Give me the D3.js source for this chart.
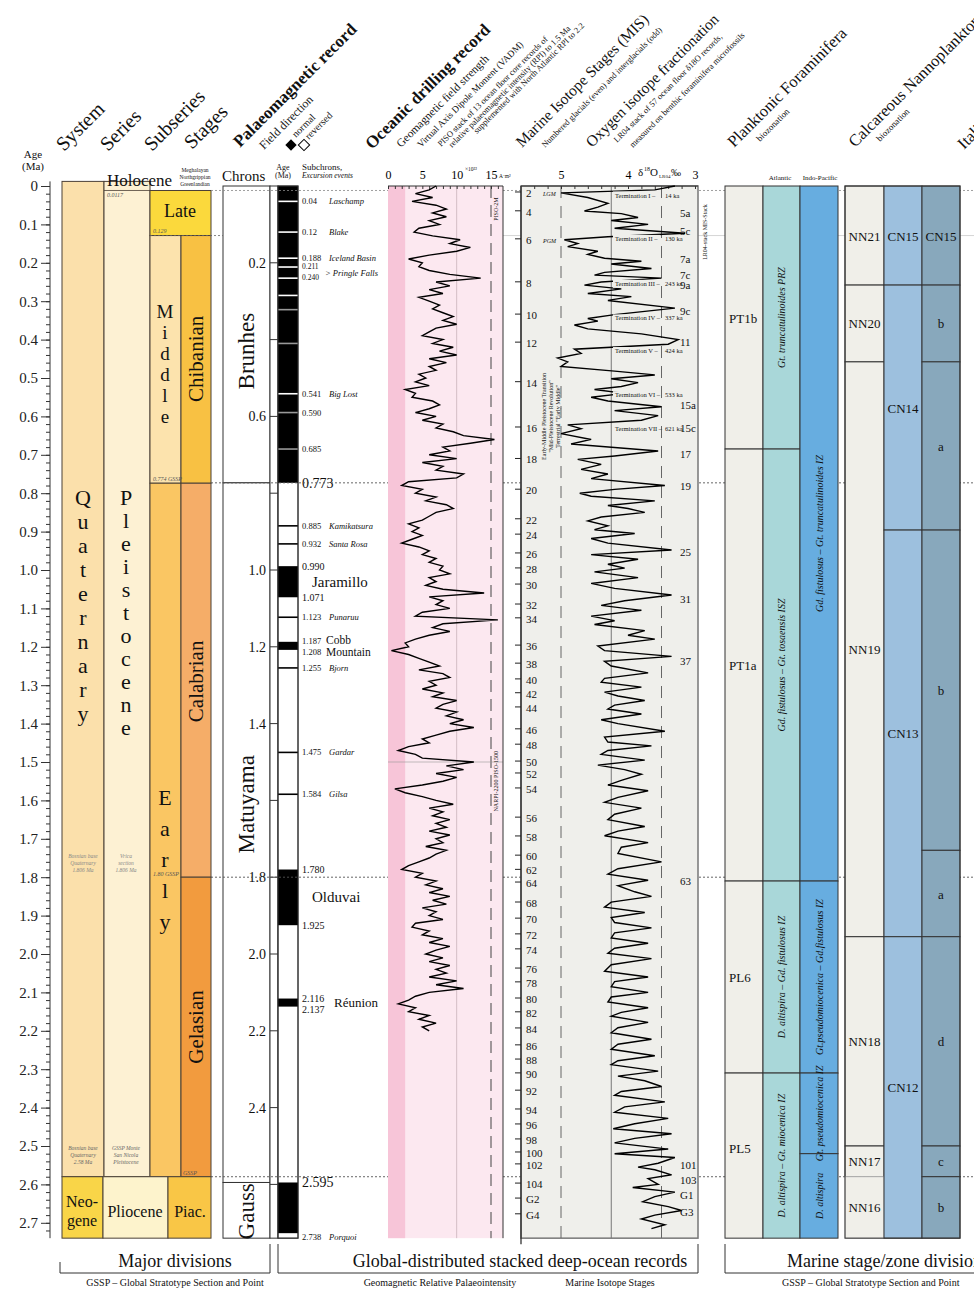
<!DOCTYPE html>
<html>
<head>
<meta charset="utf-8">
<script src="https://cdn.jsdelivr.net/npm/d3@7"></script>
<style>
  body { margin: 0; background: #fff; }
  svg { display: block; font-family: 'Liberation Serif', 'Times New Roman', serif; }
</style>
</head>
<body>
<div id="chart"></div>
<script>
// Quaternary chronostratigraphic chart - data

const BOT = 2.74, TOP = -0.012;

const systems = [
  {name: 'Quaternary', from: TOP, to: 2.58},
  {name: 'Neogene', from: 2.58, to: BOT}
];
const series = [
  {name: 'Pleistocene', from: TOP, to: 2.58},
  {name: 'Pliocene', from: 2.58, to: BOT}
];
const subseries = [
  {name: 'Late', from: 0.0117, to: 0.129},
  {name: 'Middle', from: 0.129, to: 0.774},
  {name: 'Early', from: 0.774, to: 2.58}
];
const stages = [
  {name: 'Chibanian', from: 0.129, to: 0.774},
  {name: 'Calabrian', from: 0.774, to: 1.80},
  {name: 'Gelasian', from: 1.80, to: 2.58},
  {name: 'Piac.', from: 2.58, to: BOT}
];
const chrons = [
  {name: 'Brunhes', from: 0, to: 0.773},
  {name: 'Matuyama', from: 0.773, to: 2.595},
  {name: 'Gauss', from: 2.595, to: BOT}
];
const normalPolarity = [[0, 0.773], [0.990, 1.071], [1.187, 1.208], [1.780, 1.925], [2.116, 2.137], [2.595, 2.727]];
const brunhesExcursions = [0.04, 0.12, 0.188, 0.211, 0.240, 0.285, 0.322, 0.41, 0.541, 0.590, 0.685];
const matuyamaExcursions = [0.885, 0.932, 1.123, 1.255, 1.475, 1.584];
const chronAgeLabels = [0.2, 0.6, 1.0, 1.2, 1.4, 1.8, 2.0, 2.2, 2.4];
const chronAgeTicks = [0.2, 0.4, 0.6, 0.8, 1.0, 1.2, 1.4, 1.6, 1.8, 2.0, 2.2, 2.4, 2.6];

const subchronLabels = [
  {a: 0.04, age: '0.04', name: 'Laschamp'},
  {a: 0.12, age: '0.12', name: 'Blake'},
  {a: 0.188, age: '0.188', name: 'Iceland Basin'},
  {a: 0.541, age: '0.541', name: 'Big Lost'},
  {a: 0.590, age: '0.590', name: ''},
  {a: 0.685, age: '0.685', name: ''},
  {a: 0.885, age: '0.885', name: 'Kamikatsura'},
  {a: 0.932, age: '0.932', name: 'Santa Rosa'},
  {a: 1.123, age: '1.123', name: 'Punaruu'},
  {a: 1.255, age: '1.255', name: 'Bjorn'},
  {a: 1.475, age: '1.475', name: 'Gardar'},
  {a: 1.584, age: '1.584', name: 'Gilsa'},
  {a: 2.738, age: '2.738', name: 'Porquoi'}
];
const subchronMajor = [
  {a: 0.773, text: '0.773', size: 14},
  {a: 0.990, text: '0.990', size: 10},
  {a: 1.071, text: '1.071', size: 10},
  {a: 1.780, text: '1.780', size: 10},
  {a: 1.925, text: '1.925', size: 10},
  {a: 2.595, text: '2.595', size: 14}
];

// geomagnetic field strength (VADM, 10^22 A m^2), sampled every 0.01 Ma from 0 to 2.2 Ma
const vadmStep = 0.01;
const vadmValues = [
  7, 6, 4, 6.5, 3.5, 7, 8.5, 6.5, 8.5, 6,
  7.5, 4.5, 3.8, 6.5, 10.5, 9, 12, 10, 6, 3,
  5, 4.5, 6, 9, 13.5, 7, 9, 6, 8, 4.5,
  6, 7.5, 6.5, 8, 9.5, 8, 10, 7, 6, 5,
  8, 6.5, 9.5, 7.5, 10, 6, 8.5, 6, 7, 4.5,
  5.5, 4, 6, 2.5, 4, 3.5, 6.5, 7.5, 6, 4,
  7, 5, 8, 7, 9.5, 11, 15.5, 12, 8, 9,
  6, 10, 5, 8, 7, 11, 10, 3, 2, 5,
  4, 7, 5.5, 8.5, 9.5, 7, 6, 5, 3, 4.5,
  3.5, 5, 3.5, 2, 4.5, 6, 5, 7, 6, 8,
  7.5, 9, 6, 7, 5.5, 8, 14, 6, 8, 7,
  9, 5, 4, 16, 8, 6.5, 9, 6, 4, 2.5,
  3, 0.5, 3, 4.5, 6, 7.5, 4.5, 8, 9, 6,
  7, 5, 8, 6.5, 10, 8, 7, 10, 8.5, 11,
  9, 12.5, 9, 7, 5, 6, 3, 1.5, 4, 5,
  12.5, 8.5, 11, 7, 10, 8, 5, 1, 2.5, 5,
  7, 9.5, 6, 8, 6.5, 9, 7, 8.5, 6, 9,
  7, 8, 5.5, 8.5, 7, 6, 4.5, 3, 2, 5,
  4, 7, 5.5, 8, 6, 9, 6.5, 8.5, 5, 7,
  6, 8, 4, 3.5, 6, 5, 8, 6, 9, 7,
  5.5, 8, 6, 9, 7, 8.5, 6, 10, 7, 11,
  6, 4, 3, 1.5, 4, 3, 6, 4.5, 7, 5, 6
];

// LR04 benthic d18O (permil), [age Ma, value] turning points
const d18O = [
  [0.000, 3.3], [0.010, 3.6], [0.018, 5.0], [0.030, 4.6], [0.045, 4.3], [0.055, 4.45], [0.065, 4.65], [0.072, 4.1],
  [0.082, 3.85], [0.090, 4.25], [0.100, 3.7], [0.110, 4.2], [0.123, 3.15], [0.132, 4.3], [0.140, 4.95], [0.150, 4.75],
  [0.158, 4.9], [0.170, 4.45], [0.178, 4.6], [0.188, 4.35], [0.196, 3.8], [0.203, 4.25], [0.215, 3.65], [0.225, 4.35],
  [0.232, 4.5], [0.240, 3.5], [0.250, 4.4], [0.258, 4.65], [0.268, 4.1], [0.280, 4.6], [0.288, 3.95], [0.298, 4.3],
  [0.318, 3.3], [0.335, 4.2], [0.345, 4.6], [0.352, 4.45], [0.362, 4.8], [0.372, 4.6], [0.385, 3.8], [0.400, 3.25],
  [0.412, 3.4], [0.425, 4.8], [0.436, 4.7], [0.448, 5.05], [0.458, 4.9], [0.470, 5.0], [0.482, 4.2], [0.492, 3.6],
  [0.502, 4.25], [0.512, 3.85], [0.522, 4.1], [0.530, 4.5], [0.540, 4.05], [0.550, 4.55], [0.560, 4.3], [0.575, 3.5],
  [0.585, 4.2], [0.598, 3.55], [0.610, 3.8], [0.622, 4.9], [0.632, 4.7], [0.645, 5.0], [0.660, 4.55], [0.672, 4.85],
  [0.690, 3.55], [0.703, 4.2], [0.712, 4.75], [0.725, 4.4], [0.738, 4.7], [0.750, 4.3], [0.762, 4.55], [0.780, 3.45],
  [0.790, 4.2], [0.800, 4.72], [0.808, 4.55], [0.820, 3.6], [0.832, 4.3], [0.840, 4.0], [0.850, 3.75], [0.862, 4.4],
  [0.872, 4.6], [0.885, 4.3], [0.895, 4.5], [0.905, 3.9], [0.918, 4.55], [0.930, 4.3], [0.948, 3.35], [0.960, 4.55],
  [0.972, 3.85], [0.985, 4.3], [0.995, 4.05], [1.005, 4.5], [1.020, 3.85], [1.035, 4.55], [1.048, 4.2], [1.065, 3.35],
  [1.080, 4.05], [1.092, 4.4], [1.105, 3.8], [1.120, 4.55], [1.132, 4.2], [1.142, 4.5], [1.158, 3.75], [1.170, 4.0],
  [1.180, 3.6], [1.198, 4.45], [1.210, 4.35], [1.225, 3.35], [1.238, 4.35], [1.250, 4.25], [1.268, 3.7], [1.282, 4.35],
  [1.292, 4.4], [1.305, 3.8], [1.318, 4.35], [1.328, 4.15], [1.340, 3.75], [1.352, 4.2], [1.362, 4.3], [1.375, 3.8],
  [1.390, 4.4], [1.400, 4.15], [1.420, 3.45], [1.435, 4.35], [1.448, 4.3], [1.458, 3.65], [1.470, 4.3], [1.480, 4.4],
  [1.495, 3.75], [1.508, 4.45], [1.520, 4.05], [1.532, 3.8], [1.548, 4.1], [1.560, 4.3], [1.575, 3.7], [1.592, 4.15],
  [1.605, 4.35], [1.620, 3.8], [1.636, 4.2], [1.650, 4.3], [1.668, 3.75], [1.680, 4.15], [1.692, 4.35], [1.710, 3.7],
  [1.722, 4.1], [1.738, 4.15], [1.760, 3.5], [1.778, 4.15], [1.792, 4.3], [1.808, 3.7], [1.822, 4.15], [1.838, 3.9],
  [1.850, 3.65], [1.865, 4.25], [1.878, 4.35], [1.892, 3.75], [1.905, 4.25], [1.918, 4.2], [1.932, 3.65], [1.945, 4.2],
  [1.958, 4.25], [1.972, 3.7], [1.985, 4.2], [1.998, 4.3], [2.012, 3.65], [2.028, 4.25], [2.045, 4.35], [2.060, 3.7],
  [2.072, 4.2], [2.085, 4.25], [2.100, 3.7], [2.112, 4.25], [2.125, 4.3], [2.140, 3.7], [2.152, 4.1], [2.162, 4.25],
  [2.178, 3.7], [2.192, 4.15], [2.205, 4.25], [2.222, 3.65], [2.235, 4.15], [2.248, 4.25], [2.265, 3.6], [2.278, 4.15],
  [2.288, 4.25], [2.305, 3.55], [2.318, 4.15], [2.330, 3.75], [2.345, 3.5], [2.358, 4.1], [2.368, 4.2], [2.385, 3.45],
  [2.398, 4.05], [2.412, 4.2], [2.428, 3.4], [2.442, 3.9], [2.455, 4.22], [2.468, 3.35], [2.480, 3.9], [2.492, 4.2],
  [2.508, 3.4], [2.520, 4.2], [2.530, 3.3], [2.545, 3.55], [2.555, 3.85], [2.562, 3.6], [2.575, 3.35], [2.585, 3.7],
  [2.600, 3.55], [2.608, 3.93], [2.620, 3.3], [2.632, 3.6], [2.645, 3.78], [2.658, 3.4], [2.668, 3.2], [2.680, 3.6],
  [2.690, 3.8], [2.705, 3.45], [2.715, 3.65]
];

const misLeft = [
  ['2', 0.026], ['4', 0.075], ['6', 0.148], ['8', 0.26], ['10', 0.344], ['12', 0.417], ['14', 0.52], ['16', 0.638],
  ['18', 0.72], ['20', 0.80], ['22', 0.877], ['24', 0.917], ['26', 0.966], ['28', 1.005], ['30', 1.047], ['32', 1.099],
  ['34', 1.135], ['36', 1.206], ['38', 1.253], ['40', 1.294], ['42', 1.33], ['44', 1.367], ['46', 1.424], ['48', 1.464],
  ['50', 1.508], ['52', 1.539], ['54', 1.578], ['56', 1.654], ['58', 1.703], ['60', 1.753], ['62', 1.79], ['64', 1.823],
  ['68', 1.875], ['70', 1.917], ['72', 1.958], ['74', 1.997], ['76', 2.047], ['78', 2.083], ['80', 2.125], ['82', 2.161],
  ['84', 2.203], ['86', 2.247], ['88', 2.284], ['90', 2.32], ['92', 2.365], ['94', 2.414], ['96', 2.453], ['98', 2.492],
  ['100', 2.526], ['102', 2.557], ['104', 2.607], ['G2', 2.646], ['G4', 2.687]
];
const misRight = [
  ['5a', 0.07], ['5c', 0.117], ['7a', 0.19], ['7c', 0.232], ['9a', 0.258], ['9c', 0.326], ['11', 0.406], ['15a', 0.57],
  ['15c', 0.63], ['17', 0.698], ['19', 0.782], ['25', 0.953], ['31', 1.076], ['37', 1.237], ['63', 1.81],
  ['101', 2.549], ['103', 2.589], ['G1', 2.628], ['G3', 2.672]
];
const terminations = [
  ['Termination I', '14 ka', 0.030], ['Termination II', '130 ka', 0.143], ['Termination III', '243 ka', 0.26],
  ['Termination IV', '337 ka', 0.35], ['Termination V', '424 ka', 0.435], ['Termination VI', '533 ka', 0.55],
  ['Termination VII', '621 ka', 0.637]
];

const foramZones = [
  {name: 'PT1b', from: 0, to: 0.685}, {name: 'PT1a', from: 0.685, to: 1.81},
  {name: 'PL6', from: 1.81, to: 2.31}, {name: 'PL5', from: 2.31, to: BOT}
];
const foramAtlantic = [
  {name: 'Gt. truncatulinoides PRZ', from: 0, to: 0.685},
  {name: 'Gd. fistulosus – Gt. tosaensis ISZ', from: 0.685, to: 1.81},
  {name: 'D. altispira – Gd. fistulosus IZ', from: 1.81, to: 2.31},
  {name: 'D. altispira – Gt. miocenica IZ', from: 2.31, to: BOT}
];
const foramIndoPacific = [
  {name: 'Gd. fistulosus – Gt. truncatulinoides IZ', from: 0, to: 1.81},
  {name: 'Gt.pseudomiocenica – Gd.fistulosus IZ', from: 1.81, to: 2.31},
  {name: 'Gt. pseudomiocenica IZ', from: 2.31, to: 2.52},
  {name: 'D. altispira', from: 2.52, to: BOT}
];
const nnZones = [
  {name: 'NN21', from: 0, to: 0.258}, {name: 'NN20', from: 0.258, to: 0.458}, {name: 'NN19', from: 0.458, to: 1.955},
  {name: 'NN18', from: 1.955, to: 2.50}, {name: 'NN17', from: 2.50, to: 2.58}, {name: 'NN16', from: 2.58, to: BOT}
];
const cnZones = [
  {name: 'CN15', from: 0, to: 0.258}, {name: 'CN14', from: 0.258, to: 0.896},
  {name: 'CN13', from: 0.896, to: 1.955}, {name: 'CN12', from: 1.955, to: BOT}
];
const cnSubzones = [
  {name: 'CN15', from: 0, to: 0.258}, {name: 'b', from: 0.258, to: 0.458}, {name: 'a', from: 0.458, to: 0.896},
  {name: 'b', from: 0.896, to: 1.73}, {name: 'a', from: 1.73, to: 1.955}, {name: 'd', from: 1.955, to: 2.50},
  {name: 'c', from: 2.50, to: 2.58}, {name: 'b', from: 2.58, to: BOT}
];
const boundaryLines = [0.0117, 0.129, 0.773, 1.80, 2.58];

// ---------------------------------------------------------------------------

const W = 974, H = 1291;
const svg = d3.select('#chart').append('svg').attr('width', W).attr('height', H);

const y = d3.scaleLinear().domain([0, 2.7]).range([186, 1222.8]);
const xV = d3.scaleLinear().domain([0, 15]).range([388, 491]);
const xO = d3.scaleLinear().domain([5, 3]).range([561, 695]);

const fills = {
  Quaternary: '#fbe0ab', Neogene: '#f9d548', Pleistocene: '#fdf1d3', Pliocene: '#fdf3cc',
  Late: '#fbd93c', Middle: '#fce3ad', Early: '#fac663',
  Chibanian: '#f8c143', Calabrian: '#f5ad68', Gelasian: '#f29b3e', 'Piac.': '#f9c646'
};
const lineCol = '#4b4036';

function box(g, x0, x1, a0, a1, fill, stroke) {
  return g.append('rect')
    .attr('x', x0).attr('y', y(a0))
    .attr('width', x1 - x0).attr('height', y(a1) - y(a0))
    .attr('fill', fill).attr('stroke', stroke || 'none').attr('stroke-width', 1);
}
function text(g, x, yy, s, size, opt) {
  opt = opt || {};
  const t = g.append('text').attr('x', x).attr('y', yy)
    .attr('font-size', size).attr('fill', opt.fill || '#111')
    .attr('text-anchor', opt.anchor || 'start')
    .text(s);
  if (opt.italic) t.attr('font-style', 'italic');
  if (opt.bold) t.attr('font-weight', 'bold');
  if (opt.rotate !== undefined) t.attr('transform', `rotate(${opt.rotate},${x},${yy})`);
  return t;
}
function stacked(g, x, y0, step, word, size) {
  word.split('').forEach((c, i) => text(g, x, y0 + i * step, c, size, {anchor: 'middle'}));
}
function hline(g, x0, x1, a, stroke, sw, dash) {
  const l = g.append('line').attr('x1', x0).attr('x2', x1).attr('y1', y(a)).attr('y2', y(a))
    .attr('stroke', stroke).attr('stroke-width', sw);
  if (dash) l.attr('stroke-dasharray', dash);
  return l;
}

// ---------- header (rotated titles) ----------
const head = svg.append('g');
const R = -45;
text(head, 64, 152, 'System', 20, {rotate: R});
text(head, 108, 152, 'Series', 20, {rotate: R});
text(head, 152, 152, 'Subseries', 20, {rotate: R});
text(head, 192, 150, 'Stages', 20, {rotate: R});
text(head, 240, 148, 'Palaeomagnetic record', 17, {rotate: R, bold: true});
text(head, 264, 150, 'Field direction', 12, {rotate: R});
head.append('rect').attr('x', 287).attr('y', 141).attr('width', 8).attr('height', 8)
  .attr('fill', '#000').attr('transform', 'rotate(45,291,145)');
head.append('rect').attr('x', 300).attr('y', 141).attr('width', 8).attr('height', 8)
  .attr('fill', '#fff').attr('stroke', '#000').attr('transform', 'rotate(45,304,145)');
text(head, 296, 138, 'normal', 10, {rotate: R});
text(head, 309, 140, 'reversed', 10, {rotate: R});
text(head, 372, 150, 'Oceanic drilling record', 17, {rotate: R, bold: true});
text(head, 401, 148, 'Geomagnetic field strength', 11.5, {rotate: R});
text(head, 421, 148, 'Virtual Axis Dipole Moment (VADM)', 9.5, {rotate: R});
text(head, 441, 147, 'PISO stack of 13 ocean floor core records of', 8.5, {rotate: R});
text(head, 452, 148, 'relative palaeomagnetic intensity (RPI) to 1.5 Ma', 8.5, {rotate: R});
text(head, 477, 134, 'supplemented with North Atlantic RPI to 2.2', 8.5, {rotate: R});
text(head, 522, 148, 'Marine Isotope Stages (MIS)', 15.5, {rotate: R});
text(head, 545, 148, 'Numbered glacials (even) and interglacials (odd)', 8.5, {rotate: R});
text(head, 592, 148, 'Oxygen isotope fractionation', 15.5, {rotate: R});
text(head, 617, 143, 'LR04 stack of 57 ocean floor δ18O records,', 8.5, {rotate: R});
text(head, 633, 148, 'measured on benthic foraminifera microfossils', 8.5, {rotate: R});
text(head, 734, 148, 'Planktonic Foraminifera', 16.5, {rotate: R});
text(head, 760, 142, 'biozonation', 9, {rotate: R});
text(head, 855, 148, 'Calcareous Nannoplankton', 16.5, {rotate: R});
text(head, 880, 142, 'biozonation', 9, {rotate: R});
text(head, 964, 150, 'Italian stages', 16.5, {rotate: R});

// ---------- age axis ----------
const axisG = svg.append('g').attr('transform', 'translate(50,0)');
axisG.call(d3.axisLeft(y).tickValues(d3.range(0, 2.71, 0.1)).tickSize(9)
  .tickFormat(d => d === 0 ? '0' : d3.format('.1f')(d)));
axisG.selectAll('.tick text').attr('font-size', 15).attr('font-family', "'Liberation Serif',serif").attr('fill', '#222');
axisG.select('.domain').attr('d', `M0,${y(-0.012)}V${y(BOT)}`).attr('stroke', '#333');
axisG.selectAll('.tick line').attr('stroke', '#333');
axisG.append('g').call(d3.axisLeft(y).tickValues(d3.range(0, 2.74, 0.02)).tickSize(4).tickFormat(''))
  .call(g => g.select('.domain').remove())
  .selectAll('line').attr('stroke', '#333');
text(svg, 33, 158, 'Age', 11, {anchor: 'middle'});
text(svg, 33, 170, '(Ma)', 11, {anchor: 'middle'});

// ---------- major divisions ----------
const md = svg.append('g');
box(md, 62, 104, systems[0].from, systems[0].to, fills.Quaternary, lineCol);
box(md, 104, 150, series[0].from, series[0].to, fills.Pleistocene, lineCol);
box(md, 150, 211, subseries[0].from, subseries[0].to, fills.Late, lineCol);
subseries.slice(1).forEach(d => box(md, 150, 181, d.from, d.to, fills[d.name], lineCol));
stages.slice(0, 3).forEach(d => box(md, 181, 211, d.from, d.to, fills[d.name], lineCol));
box(md, 62, 103, systems[1].from, systems[1].to, fills.Neogene, lineCol);
box(md, 103, 168, series[1].from, series[1].to, fills.Pliocene, lineCol);
box(md, 168, 211, stages[3].from, stages[3].to, fills['Piac.'], lineCol);
hline(md, 104, 150, 0.0117, lineCol, 0.8);

stacked(md, 83, 505, 24, 'Quaternary', 22);
stacked(md, 126, 505, 23, 'Pleistocene', 22);
stacked(md, 165, 318, 21, 'Middle', 19);
stacked(md, 165, 805, 31, 'Early', 22);
text(md, 180, 217, 'Late', 18, {anchor: 'middle'});
[['Chibanian', 0.45], ['Calabrian', 1.29], ['Gelasian', 2.19]].forEach(([n, a]) =>
  text(md, 203, y(a), n, 21, {anchor: 'middle', rotate: -90}));
text(md, 82, 1207, 'Neo-', 16, {anchor: 'middle'});
text(md, 82, 1226, 'gene', 16, {anchor: 'middle'});
text(md, 135, 1217, 'Pliocene', 16, {anchor: 'middle'});
text(md, 190, 1217, 'Piac.', 16, {anchor: 'middle'});
text(md, 107, 186, 'Holocene', 17);
text(md, 195, 172, 'Meghalayan', 5.5, {anchor: 'middle'});
text(md, 195, 179, 'Northgrippian', 5.5, {anchor: 'middle'});
text(md, 195, 186, 'Greenlandian', 5.5, {anchor: 'middle'});
text(md, 107, 197, '0.0117', 6, {italic: true, fill: '#555'});
text(md, 153, 233, '0.129', 6, {italic: true, fill: '#555'});
text(md, 153, 481, '0.774 GSSP', 6, {italic: true, fill: '#555'});
text(md, 153, 876, '1.80 GSSP', 6, {italic: true, fill: '#555'});
text(md, 183, 1175, 'GSSP', 6, {italic: true, fill: '#555'});
['Bosnian base', 'Quaternary', '2.58 Ma'].forEach((s, i) => text(md, 83, 1150 + i * 7, s, 5.5, {italic: true, fill: '#666', anchor: 'middle'}));
['GSSP Monte', 'San Nicola', 'Pleistocene'].forEach((s, i) => text(md, 126, 1150 + i * 7, s, 5.5, {italic: true, fill: '#666', anchor: 'middle'}));
['Bosnian base', 'Quaternary', '1.806 Ma'].forEach((s, i) => text(md, 83, 858 + i * 7, s, 5.5, {italic: true, fill: '#888', anchor: 'middle'}));
['Vrica', 'section', '1.806 Ma'].forEach((s, i) => text(md, 126, 858 + i * 7, s, 5.5, {italic: true, fill: '#888', anchor: 'middle'}));

// ---------- chrons and polarity ----------
const pm = svg.append('g');
chrons.forEach(d => box(pm, 223, 270, d.from, d.to, '#fff', '#333'));
[['Brunhes', 0.43], ['Matuyama', 1.61], ['Gauss', 2.67]].forEach(([n, a]) =>
  text(pm, 254, y(a), n, 23, {anchor: 'middle', rotate: -90}));
box(pm, 270, 278, 0, BOT, '#fff', '#333');
chronAgeTicks.forEach(a => hline(pm, 270, 278, a, '#333', 1));
chronAgeLabels.forEach(a => text(pm, 266, y(a) + 5, d3.format('.1f')(a), 14, {anchor: 'end'}));
text(pm, 222, 181, 'Chrons', 15);
text(pm, 283, 170, 'Age', 8, {anchor: 'middle'});
text(pm, 283, 178, '(Ma)', 8, {anchor: 'middle'});

box(pm, 278, 298, 0, BOT, '#fff', '#333');
normalPolarity.forEach(([a0, a1]) => box(pm, 278, 298, a0, a1, '#000'));
brunhesExcursions.forEach((a, i) => hline(pm, 278, 298, a, i < 6 || i === 8 ? '#fff' : '#999', 1.6));
matuyamaExcursions.forEach(a => hline(pm, 278, 298, a, '#000', 1.6));
pm.append('rect').attr('x', 278).attr('y', y(0)).attr('width', 20).attr('height', y(BOT) - y(0))
  .attr('fill', 'none').attr('stroke', '#333');

text(pm, 302, 170, 'Subchrons,', 9);
text(pm, 302, 178, 'Excursion events', 7.5, {italic: true});
subchronLabels.forEach(d => {
  text(pm, 302, y(d.a) + 3, d.age, 8.5);
  if (d.name) text(pm, 329, y(d.a) + 3, d.name, 8.5, {italic: true});
});
text(pm, 302, y(0.211) + 2, '0.211', 7.5);
text(pm, 302, y(0.240) + 2, '0.240', 7.5);
text(pm, 325, y(0.226) + 3, '> Pringle Falls', 8.5, {italic: true});
subchronMajor.forEach(d => text(pm, 302, y(d.a) + d.size * 0.35, d.text, d.size));
text(pm, 312, y(1.03) + 5, 'Jaramillo', 15);
text(pm, 302, y(1.187) + 2, '1.187', 8.5);
text(pm, 302, y(1.208) + 5, '1.208', 8.5);
text(pm, 326, y(1.187) + 2, 'Cobb', 11.5);
text(pm, 326, y(1.208) + 6, 'Mountain', 11.5);
text(pm, 312, y(1.852) + 5, 'Olduvai', 15);
text(pm, 302, y(2.116) + 3, '2.116', 10);
text(pm, 302, y(2.137) + 6, '2.137', 10);
text(pm, 334, y(2.125) + 5, 'Réunion', 13);

// ---------- horizontal boundary guide lines ----------
const gl = svg.append('g');
hline(gl, 211, W, boundaryLines[0], '#888', 0.8, '2,2');
hline(gl, 150, 223, boundaryLines[1], '#666', 0.8, '2,2');
hline(gl, 388, W, boundaryLines[1], '#bbb', 0.6);
hline(gl, 211, W, boundaryLines[2], '#555', 0.9, '2,2');
hline(gl, 211, W, boundaryLines[3], '#555', 0.9, '2,2');
hline(gl, 211, W, boundaryLines[4], '#555', 0.9, '2,2');

// ---------- VADM panel ----------
const vp = svg.append('g');
box(vp, xV(0), 503, 0, BOT, '#fce8f0');
box(vp, xV(0), xV(2.5), 0, BOT, '#f7c5d8');
vp.append('line').attr('x1', xV(10)).attr('x2', xV(10)).attr('y1', y(0)).attr('y2', y(BOT))
  .attr('stroke', '#c9b3bb').attr('stroke-width', 0.8);
vp.append('line').attr('x1', xV(15)).attr('x2', xV(15)).attr('y1', y(0)).attr('y2', y(BOT))
  .attr('stroke', '#444').attr('stroke-width', 1).attr('stroke-dasharray', '12,7');
hline(vp, xV(0), 503, 1.5, '#999', 0.6);
vp.append('line').attr('x1', 503).attr('x2', 503).attr('y1', y(0)).attr('y2', y(BOT)).attr('stroke', '#333');
const vAxis = vp.append('g').attr('transform', `translate(0,${y(0)})`)
  .call(d3.axisTop(xV).tickValues([0, 5, 10, 15]).tickSize(0).tickPadding(7));
vAxis.select('.domain').attr('d', `M${xV(0)},0H503`).attr('stroke', '#333');
vAxis.selectAll('text').attr('font-size', 12).attr('font-family', "'Liberation Serif',serif");
vp.append('g').attr('transform', `translate(0,${y(0)})`)
  .call(d3.axisBottom(xV).tickValues(d3.range(0, 17, 1)).tickSize(3).tickFormat(''))
  .call(g => g.select('.domain').remove()).selectAll('line').attr('stroke', '#333');
text(vp, 465, 171, '×10²²', 5.5);
text(vp, 499, 178, 'A·m²', 5.5);
text(vp, 498, y(0.06), 'PISO-2M', 6, {rotate: -90, anchor: 'middle'});
text(vp, 498, y(1.55), 'NARPI-2200  PISO-1500', 6, {rotate: -90, anchor: 'middle'});

const vadm = vadmValues.map((v, i) => ({a: i * vadmStep, v}));
vp.append('path').datum(vadm)
  .attr('fill', 'none').attr('stroke', '#000').attr('stroke-width', 1.4)
  .attr('d', d3.line().x(d => xV(d.v)).y(d => y(d.a)));

// ---------- MIS panel ----------
const mp = svg.append('g');
box(mp, 521, 698, 0, BOT, '#efefeb', '#777').attr('stroke-width', 1.5);
[[5.0, '12,8', '#666'], [4.25, null, '#777'], [3.5, '12,8', '#666']].forEach(([v, dash, c]) => {
  const l = mp.append('line').attr('x1', xO(v)).attr('x2', xO(v)).attr('y1', y(0)).attr('y2', y(BOT))
    .attr('stroke', c).attr('stroke-width', 1);
  if (dash) l.attr('stroke-dasharray', dash);
});
mp.append('line').attr('x1', 521).attr('x2', 521).attr('y1', y(0)).attr('y2', y(BOT) + 6).attr('stroke', '#222').attr('stroke-width', 1.2);
const oAxis = mp.append('g').attr('transform', `translate(0,${y(0)})`)
  .call(d3.axisTop(xO).tickValues([5, 4, 3]).tickSize(0).tickPadding(7).tickFormat(d3.format('d')));
oAxis.select('.domain').attr('d', 'M521,0H698').attr('stroke', '#333');
oAxis.selectAll('text').attr('font-size', 12).attr('font-family', "'Liberation Serif',serif");
mp.append('g').attr('transform', `translate(0,${y(0)})`)
  .call(d3.axisBottom(xO).tickValues(d3.range(3.0, 5.6, 0.2)).tickSize(3).tickFormat(''))
  .call(g => g.select('.domain').remove()).selectAll('line').attr('stroke', '#333');
text(mp, 638, 176, 'δ', 11);
text(mp, 644, 171, '18', 6);
text(mp, 650, 176, 'O', 11);
text(mp, 659, 178, 'LR04', 5);
text(mp, 671, 176, '‰', 10);

misLeft.forEach(([l, a]) => {
  mp.append('line').attr('x1', 515).attr('x2', 521).attr('y1', y(a) - 4).attr('y2', y(a) - 4).attr('stroke', '#222');
  text(mp, 526, y(a) + 1, l, 11);
});
misRight.forEach(([l, a]) => text(mp, 680, y(a) + 4, l, 11));

mp.append('path').datum(d18O)
  .attr('fill', 'none').attr('stroke', '#000').attr('stroke-width', 1.4)
  .attr('d', d3.line().x(d => xO(d[1])).y(d => y(d[0])));

terminations.forEach(([t, ka, a]) => {
  mp.append('rect').attr('x', 613).attr('y', y(a) - 6).attr('width', 47).attr('height', 8).attr('fill', '#efefeb');
  text(mp, 615, y(a), t + ' –', 6.5);
  text(mp, 665, y(a), ka, 6.5);
});
text(mp, 543, y(0.026), 'LGM', 6, {italic: true});
text(mp, 543, y(0.148), 'PGM', 6, {italic: true});
['Early-Middle Pleistocene Transition', '"Mid-Pleistocene Revolution"', 'Terrestrial "Early Middle"'].forEach((s, i) =>
  text(mp, 546 + i * 7, y(0.60), s, 6, {rotate: -90, anchor: 'middle'}));
text(mp, 707, y(0.12), 'LR04-stack   MIS-Stack', 6, {rotate: -90, anchor: 'middle'});

// ---------- planktonic foraminifera ----------
const fp = svg.append('g');
const fx = [725, 763, 800, 838];
foramZones.forEach(d => box(fp, fx[0], fx[1], d.from, d.to, '#f0efe9', '#333'));
foramAtlantic.forEach(d => box(fp, fx[1], fx[2], d.from, d.to, '#a9d7d9', '#333'));
foramIndoPacific.forEach(d => box(fp, fx[2], fx[3], d.from, d.to, '#67ade0', '#333'));
foramZones.forEach(d => text(fp, 729, y((d.from + Math.min(d.to, 2.7)) / 2) + 5, d.name, 13));
foramAtlantic.forEach(d => text(fp, 785, y((d.from + Math.min(d.to, 2.74)) / 2), d.name, 10, {italic: true, rotate: -90, anchor: 'middle'}));
foramIndoPacific.forEach(d => text(fp, 823, y((d.from + Math.min(d.to, 2.74)) / 2), d.name, 10, {italic: true, rotate: -90, anchor: 'middle'}));
text(fp, 780, 180, 'Atlantic', 7, {anchor: 'middle'});
text(fp, 820, 180, 'Indo-Pacific', 7, {anchor: 'middle'});

// ---------- calcareous nannoplankton ----------
const np = svg.append('g');
const nx = [845, 884, 922, 960];
nnZones.forEach(d => box(np, nx[0], nx[1], d.from, d.to, '#f0efe9', d.from === 2.58 ? '#bbb' : '#333'));
cnZones.forEach(d => box(np, nx[1], nx[2], d.from, d.to, '#9dc0de', '#333'));
cnSubzones.forEach(d => box(np, nx[2], nx[3], d.from, d.to, '#88a8bc', '#333'));
np.append('rect').attr('x', nx[0]).attr('y', y(0)).attr('width', nx[3] - nx[0]).attr('height', y(BOT) - y(0))
  .attr('fill', 'none').attr('stroke', '#333');
nnZones.forEach(d => text(np, (nx[0] + nx[1]) / 2, y((d.from + d.to) / 2) + 5, d.name, 13, {anchor: 'middle'}));
cnZones.forEach(d => text(np, (nx[1] + nx[2]) / 2, y((d.from + d.to) / 2) + 5, d.name, 13, {anchor: 'middle'}));
cnSubzones.forEach(d => text(np, (nx[2] + nx[3]) / 2, y((d.from + d.to) / 2) + 5, d.name, 13, {anchor: 'middle'}));

// ---------- bottom brackets ----------
const bt = svg.append('g');
function bracket(x0, x1, leftTall, rightTall) {
  bt.append('path')
    .attr('d', `M${x0},${leftTall ? 1244 : 1262}V1273H${x1}V${rightTall ? 1244 : 1262}`)
    .attr('fill', 'none').attr('stroke', '#333').attr('stroke-width', 1);
}
bracket(60, 270, false, true);
bracket(278, 698, true, true);
bracket(725, 1010, true, true);
text(bt, 175, 1267, 'Major divisions', 18, {anchor: 'middle'});
text(bt, 175, 1286, 'GSSP – Global Stratotype Section and Point', 10, {anchor: 'middle'});
text(bt, 520, 1267, 'Global-distributed stacked deep-ocean records', 18, {anchor: 'middle'});
text(bt, 440, 1286, 'Geomagnetic Relative Palaeointensity', 10, {anchor: 'middle'});
text(bt, 610, 1286, 'Marine Isotope Stages', 10, {anchor: 'middle'});
text(bt, 787, 1267, 'Marine stage/zone divisions', 18);
text(bt, 782, 1286, 'GSSP – Global Stratotype Section and Point', 10);
</script>
</body>
</html>
